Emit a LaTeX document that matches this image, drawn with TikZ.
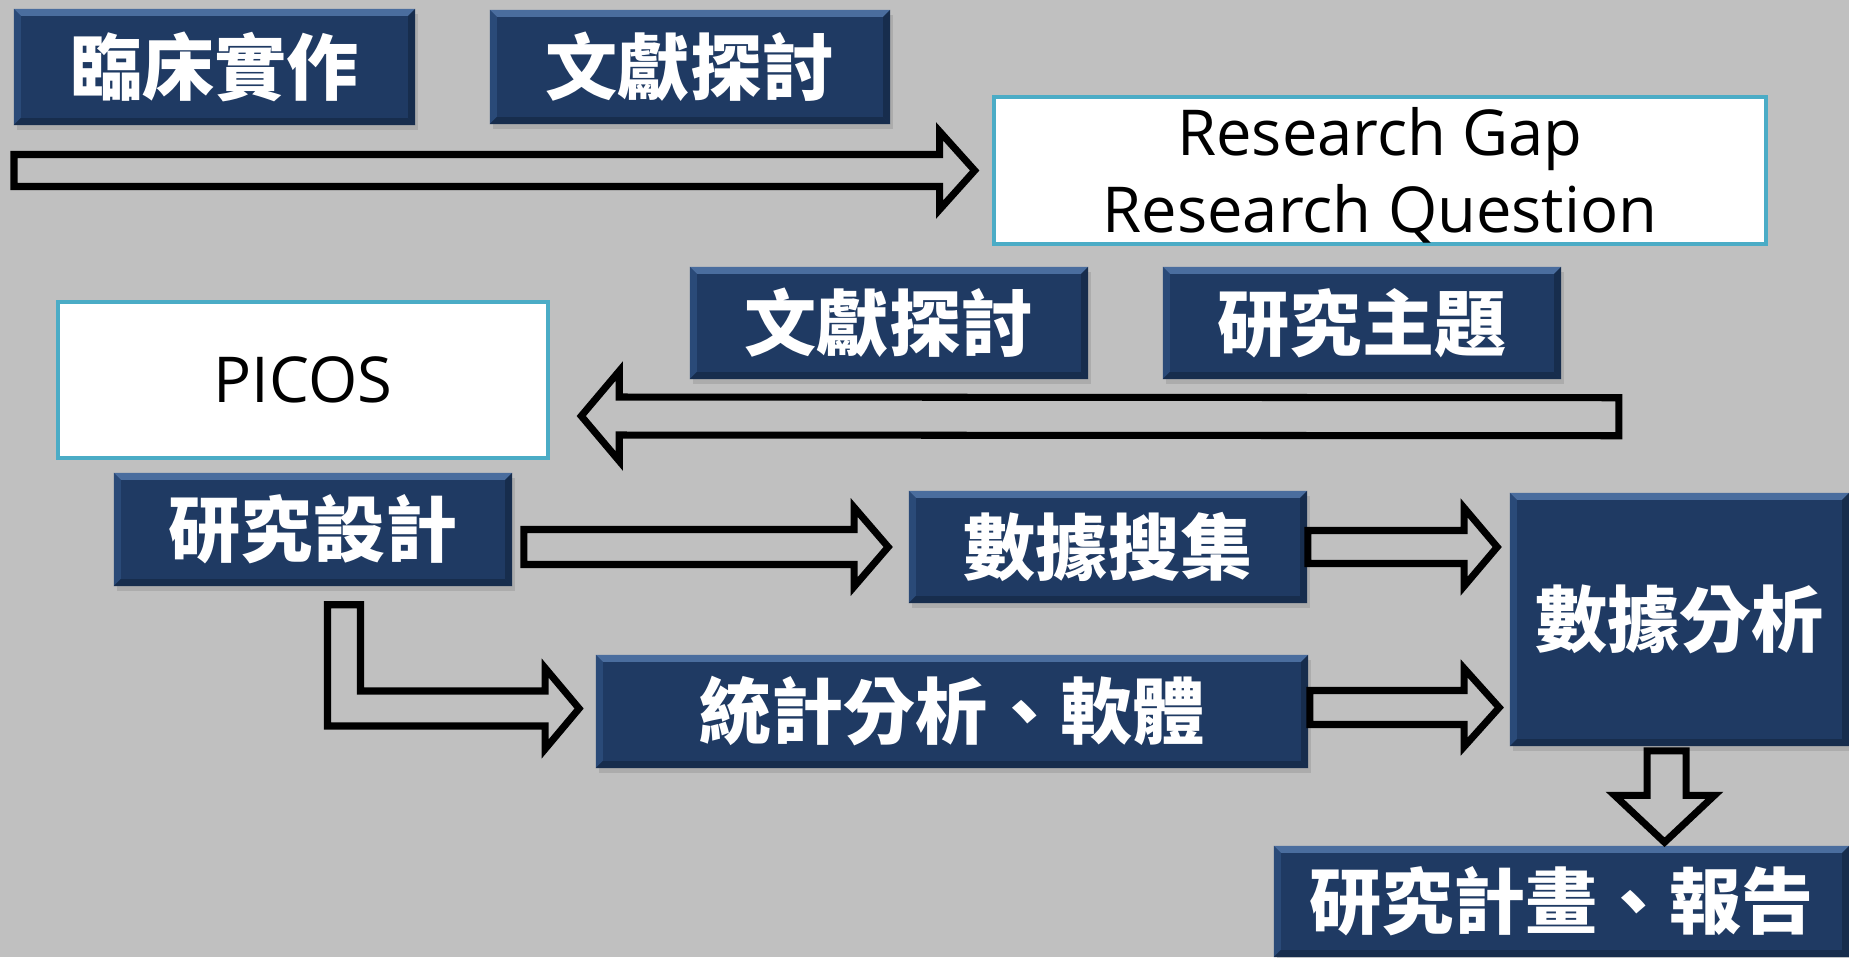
\documentclass[tikz,border=0pt]{standalone}
\usepackage{fontspec}
\setmainfont{Open Sans}
\newfontfamily\cjk{Noto Sans CJK TC}
\usetikzlibrary{calc,shadows}

\definecolor{bggray}{HTML}{C0C0C0}
\definecolor{navy}{HTML}{1F3A63}
\definecolor{bevtop}{HTML}{4A6D9E}
\definecolor{bevleft}{HTML}{2A4A78}
\definecolor{bevdark}{HTML}{172D4D}
\definecolor{framecyan}{HTML}{4BACC6}

\def\bevw{0.07cm}

% hollow block arrow: start, tip, shaft half, head half, head offset
\newcommand{\hollowarrow}[5]{%
  \draw[hollow] ($(#1)+(0,-#3)$) -- ($(#2)+(#5,-#3)$) -- ($(#2)+(#5,-#4)$) -- (#2)
    -- ($(#2)+(#5,#4)$) -- ($(#2)+(#5,#3)$) -- ($(#1)+(0,#3)$) -- cycle;}

\begin{document}
\begin{tikzpicture}[x=0.01cm, y=-0.01cm,
    navybox/.style={fill=navy, text=white, inner sep=0pt,
      font=\cjk\bfseries\fontsize{20.5}{24}\selectfont,
      drop shadow={shadow xshift=0.03cm, shadow yshift=-0.05cm, opacity=0.3},
      path picture={
        \fill[bevtop] (path picture bounding box.north west) -- (path picture bounding box.north east)
          -- ([xshift=-\bevw,yshift=-\bevw]path picture bounding box.north east)
          -- ([xshift=\bevw,yshift=-\bevw]path picture bounding box.north west) -- cycle;
        \fill[bevleft] (path picture bounding box.north west) -- (path picture bounding box.south west)
          -- ([xshift=\bevw,yshift=\bevw]path picture bounding box.south west)
          -- ([xshift=\bevw,yshift=-\bevw]path picture bounding box.north west) -- cycle;
        \fill[bevdark] (path picture bounding box.north east) -- (path picture bounding box.south east)
          -- ([xshift=-\bevw,yshift=\bevw]path picture bounding box.south east)
          -- ([xshift=-\bevw,yshift=-\bevw]path picture bounding box.north east) -- cycle;
        \fill[bevdark] (path picture bounding box.south west) -- (path picture bounding box.south east)
          -- ([xshift=-\bevw,yshift=\bevw]path picture bounding box.south east)
          -- ([xshift=\bevw,yshift=\bevw]path picture bounding box.south west) -- cycle;
      }},
    whitebox/.style={fill=white, draw=framecyan, line width=1.2pt, inner sep=0pt, align=center,
      font=\fontsize{18}{21.9}\selectfont},
    hollow/.style={draw=black, line width=2pt, line join=miter}]

    % background
    \fill[bggray] (0,0) rectangle (1849,957);
    \useasboundingbox (0,0) rectangle (1849,957);

    % first row
    \node[navybox, minimum width=4.01cm, minimum height=1.16cm] (lcsz) at (214.5,67) {臨床實作};
    \node[navybox, minimum width=4.00cm, minimum height=1.14cm] (wxtt1) at (690,67) {文獻探討};
    \node[whitebox, minimum width=7.72cm, minimum height=1.47cm] (res) at (1380,170.5)
      {\rule{0pt}{16.5pt}Research Gap\\Research Question};

    \coordinate (gapstart) at (14,170.5);
    \coordinate (gaptip) at ($(res.west)+(-17,0)$);
    \hollowarrow{gapstart}{gaptip}{16}{39}{-35}

    % second row
    \node[navybox, minimum width=3.98cm, minimum height=1.12cm] (wxtt2) at (889,323) {文獻探討};
    \node[navybox, minimum width=3.98cm, minimum height=1.12cm] (yjzt) at (1362,323) {研究主題};
    \node[whitebox, minimum width=4.90cm, minimum height=1.56cm] (picos) at (303,380) {PICOS};

    \coordinate (picostart) at ($(yjzt.south east)+(57,37)$);
    \coordinate (picostip) at ($(picos.east)+(31,36)$);
    \hollowarrow{picostart}{picostip}{19}{45}{38}

    % design and data
    \node[navybox, minimum width=3.98cm, minimum height=1.13cm] (yjsj) at (313,529.5) {研究設計};
    \node[navybox, minimum width=3.98cm, minimum height=1.12cm] (sjsj) at (1108,547) {數據搜集};
    \node[navybox, minimum width=3.39cm, minimum height=2.53cm] (sjfx) at (1679.5,619.5) {數據分析};
    \node[navybox, minimum width=7.12cm, minimum height=1.13cm] (tjfx) at (952,711.5) {統計分析、軟體};
    \node[navybox, minimum width=5.75cm, minimum height=1.11cm] (yjjh) at (1561.5,901.5) {研究計畫、報告};

    \coordinate (a3s) at ($(yjsj.east |- sjsj.west)+(11,0)$);
    \coordinate (a3t) at ($(sjsj.west)+(-20,0)$);
    \hollowarrow{a3s}{a3t}{17.5}{39.5}{-34}

    \coordinate (a4s) at (sjsj.east);
    \coordinate (a4t) at ($(sjsj.east -| sjfx.west)+(-12,0)$);
    \hollowarrow{a4s}{a4t}{16.5}{39}{-33}

    \coordinate (a5s) at ($(tjfx.east)+(1,-4)$);
    \coordinate (a5t) at ($(tjfx.east -| sjfx.west)+(-10,-4)$);
    \hollowarrow{a5s}{a5t}{17}{39}{-35}

    % down arrow
    \coordinate (downtop) at ($(sjfx.south)+(-13,4)$);
    \coordinate (downtip) at ($(downtop |- yjjh.north)+(-2,-3)$);
    \draw[hollow] ($(downtop)+(-19.5,0)$) -- ($(downtip)+(-17.5,-47)$) -- ($(downtip)+(-50,-47)$) -- (downtip)
      -- ($(downtip)+(50,-47)$) -- ($(downtip)+(21.5,-47)$) -- ($(downtop)+(19.5,0)$) -- cycle;

    % bent arrow
    \coordinate (lstart) at ($(yjsj.south)+(31,18)$);
    \coordinate (ltip) at ($(tjfx.west)+(-16,-3)$);
    \coordinate (lcorner) at (lstart |- ltip);
    \draw[hollow] ($(lstart)+(-16.5,0)$) -- ($(lstart)+(16.5,0)$) -- ($(lcorner)+(16.5,-17.5)$)
      -- ($(ltip)+(-34,-17.5)$) -- ($(ltip)+(-34,-40.5)$) -- (ltip) -- ($(ltip)+(-34,40.5)$)
      -- ($(ltip)+(-34,17.5)$) -- ($(lcorner)+(-16.5,17.5)$) -- cycle;

\end{tikzpicture}
\end{document}
